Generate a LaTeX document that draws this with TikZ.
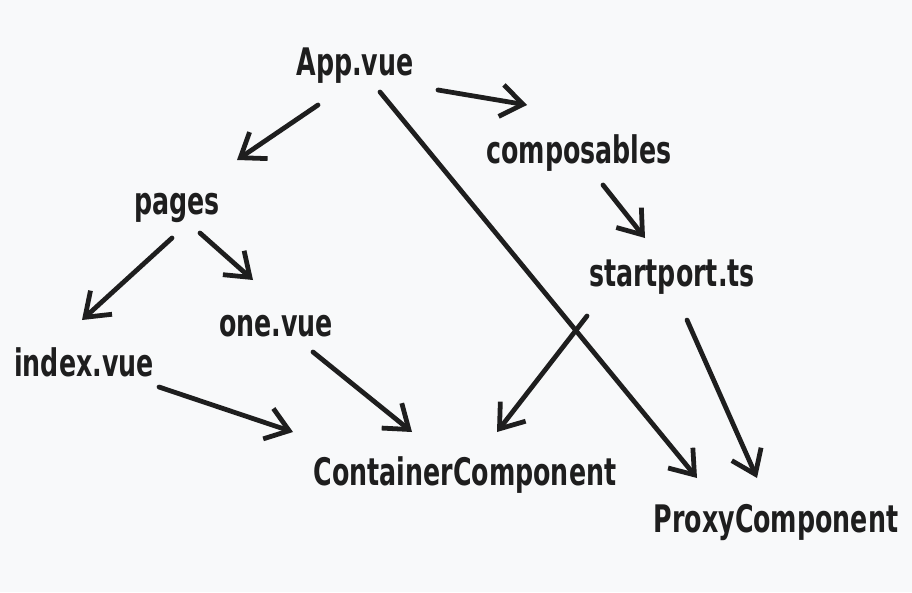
\documentclass[tikz,border=0pt]{standalone}
\usepackage{fontspec}
\usetikzlibrary{arrows.meta}
\newfontfamily\handfont{DejaVu Sans Condensed}
\definecolor{paper}{RGB}{248,249,250}
\definecolor{ink}{RGB}{30,30,30}
\newcommand{\tall}[1]{\scalebox{1}[1.35]{#1}}

\begin{document}
\begin{tikzpicture}[x=0.025cm, y=-0.025cm,
    file/.style={inner sep=0pt, text=ink, font=\handfont\bfseries\fontsize{20}{22}\selectfont},
    link/.style={draw=ink, line width=3.4pt, line cap=round, line join=round,
        -{Straight Barb[length=5.5mm, width=8mm, line width=3.4pt]}}]

% Tlo i ramka obrazka
\fill[paper] (0,0) rectangle (912,592);
\useasboundingbox (0,0) rectangle (912,592);

% Pliki
\node[file] (app) at (355,66) {\tall{App.vue}};
\node[file] (composables) at (579,153) {\tall{composables}};
\node[file] (pages) at (177,208) {\tall{pages}};
\node[file] (startport) at (672,277) {\tall{startport.ts}};
\node[file] (one) at (276,326) {\tall{one.vue}};
\node[file] (index) at (84,362) {\tall{index.vue}};
\node[file] (container) at (465,475) {\tall{ContainerComponent}};
\node[file] (proxy) at (776,522) {\tall{ProxyComponent}};

% Strzalki z App.vue
\draw[link] ([shift={(-37,39)}]app.center) -- ([shift={(60,-48)}]pages.center);
\draw[link] ([shift={(83,24)}]app.center) -- ([shift={(-52,-48)}]composables.center);
\draw[link] ([shift={(25,26)}]app.center) -- ([shift={(-79,-44)}]proxy.center);

% Strzalki z composables i startport.ts
\draw[link] ([shift={(24,32)}]composables.center) -- ([shift={(-27,-39)}]startport.center);
\draw[link] ([shift={(-85,39)}]startport.center) -- ([shift={(32,-43)}]container.center);
\draw[link] ([shift={(15,43)}]startport.center) -- ([shift={(-19,-44)}]proxy.center);

% Strzalki ze stron
\draw[link] ([shift={(-5,30)}]pages.center) -- ([shift={(-2,-42)}]index.center);
\draw[link] ([shift={(23,25)}]pages.center) -- ([shift={(-23,-46)}]one.center);
\draw[link] ([shift={(37,26)}]one.center) -- ([shift={(-53,-43)}]container.center);
\draw[link] ([shift={(75,25)}]index.center) -- ([shift={(-172,-43)}]container.center);
\end{tikzpicture}
\end{document}
